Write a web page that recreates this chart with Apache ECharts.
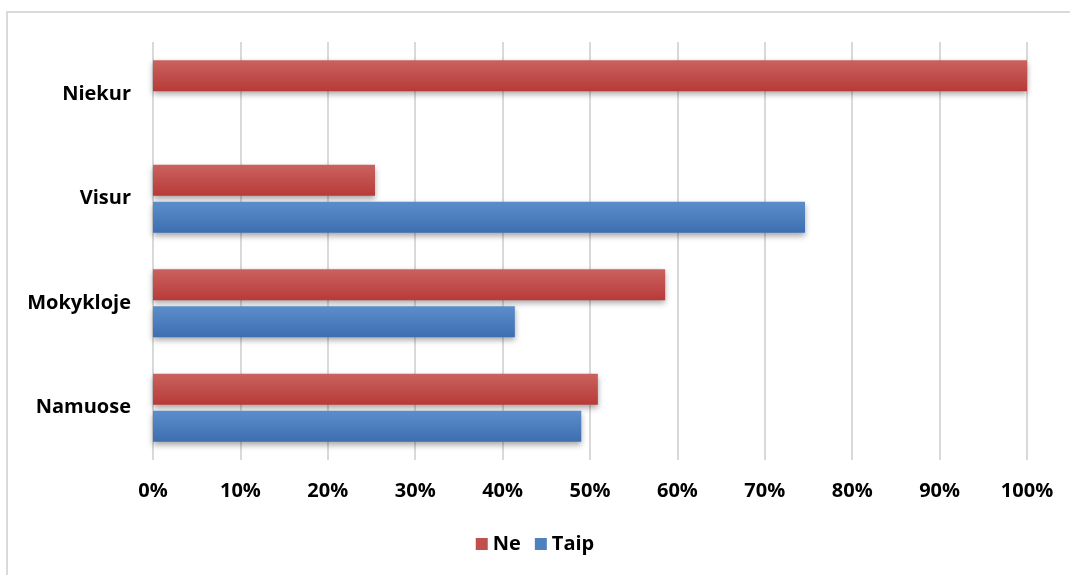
<!DOCTYPE html>
<html>
<head>
<meta charset="utf-8">
<script src="https://cdn.jsdelivr.net/npm/echarts@6/dist/echarts.min.js"></script>
<style>
    html, body { margin: 0; padding: 0; background: #fff; }
    #frame {
        position: absolute; left: 6px; top: 11px;
        width: 1080px; height: 600px;
        border: 2px solid #dadada;
    }
    #main { position: absolute; left: 0; top: 0; width: 1070px; height: 575px; }
</style>
</head>
<body>
<div id="frame"></div>
<div id="main"></div>
<script>
// kategorijos (iš apačios į viršų)
var categories = ['Namuose', 'Mokykloje', 'Visur', 'Niekur'];
var neData = [50.9, 58.6, 25.4, 100];
var taipData = [49.0, 41.4, 74.6, 0];

function grad(top, bottom) {
    return new echarts.graphic.LinearGradient(0, 0, 0, 1, [
        { offset: 0, color: top },
        { offset: 1, color: bottom }
    ]);
}

var font = {
    fontFamily: 'Open Sans',
    fontWeight: 'bold',
    fontSize: 20,
    color: '#000'
};

var chart = echarts.init(document.getElementById('main'));
var option = {
    animation: false,
    grid: {
        left: 153,
        right: 43,
        top: 42,
        bottom: 115
    },
    legend: {
        bottom: 16,
        left: 'center',
        itemWidth: 12,
        itemHeight: 12,
        itemGap: 14,
        icon: 'rect',
        textStyle: font,
        data: [
            { name: 'Ne', itemStyle: { color: '#c0504d' } },
            { name: 'Taip', itemStyle: { color: '#4f81bd' } }
        ]
    },
    xAxis: {
        type: 'value',
        min: 0,
        max: 100,
        interval: 10,
        axisLine: { show: false },
        axisTick: { show: false },
        splitLine: {
            lineStyle: { color: '#d9d9d9', width: 2 }
        },
        axisLabel: Object.assign({ formatter: '{value}%', margin: 21 }, font)
    },
    yAxis: {
        type: 'category',
        data: categories,
        axisLine: { show: false },
        axisTick: { show: false },
        axisLabel: Object.assign({ margin: 22 }, font)
    },
    series: [{
        name: 'Ne',
        type: 'bar',
        barWidth: 31,
        barGap: '20%',
        itemStyle: {
            color: grad('#ca625f', '#b73b38'),
            shadowColor: 'rgba(0,0,0,0.35)',
            shadowBlur: 6,
            shadowOffsetY: 3
        },
        data: neData
    }, {
        name: 'Taip',
        type: 'bar',
        barWidth: 31,
        itemStyle: {
            color: grad('#5c8dcb', '#3d6eb1'),
            shadowColor: 'rgba(0,0,0,0.35)',
            shadowBlur: 6,
            shadowOffsetY: 3
        },
        data: taipData
    }]
};
chart.setOption(option);
</script>
</body>
</html>
